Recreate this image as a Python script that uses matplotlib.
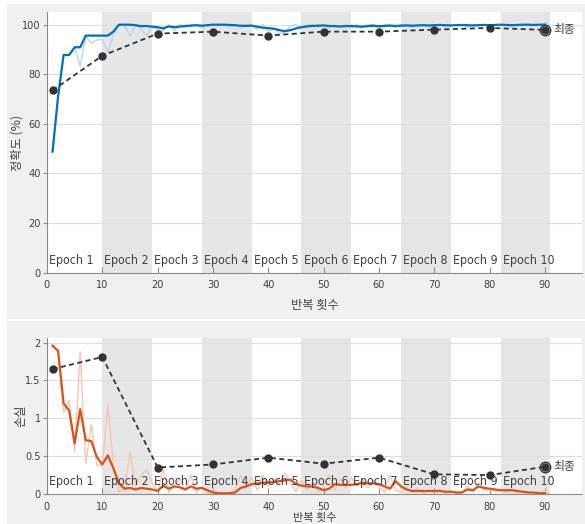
import numpy as np
import matplotlib
matplotlib.use("Agg")
import matplotlib.pyplot as plt
from matplotlib.patches import Rectangle
from matplotlib import font_manager as fm

# pick a condensed latin face if available
def pick_font():
    for fam, st in [('Liberation Sans Narrow', 'normal'), ('DejaVu Sans', 'condensed'),
                    ('Roboto Condensed', 'normal'), ('Open Sans', 'condensed')]:
        try:
            p = fm.findfont(fm.FontProperties(family=fam, stretch=st), fallback_to_default=False)
            name = p.lower()
            if 'narrow' in name or 'condensed' in name:
                return fam, st, name
        except Exception:
            pass
    return 'Liberation Sans', 'normal', ''

LATIN, STRETCH, FNAME = pick_font()
plt.rcParams['font.family'] = [LATIN, 'Noto Sans CJK KR']
plt.rcParams['font.stretch'] = STRETCH

# ---------------- data ----------------
acc_smooth = [48.8, 71.0, 87.8, 87.8, 90.9, 90.9, 95.6, 95.6, 95.6, 95.6,
              95.6, 97.2, 100, 100, 100, 99.8, 99.4, 99.5, 99.2, 99.0,
              98.5, 99.3, 99.0, 99.2, 99.5, 99.6, 99.8, 99.6, 99.8, 100,
              100, 100, 99.9, 99.8, 99.6, 99.5, 99.6, 99.2, 98.8, 98.6,
              98.4, 97.8, 97.4, 97.8, 98.5, 99.0, 99.3, 99.5, 99.6, 99.7,
              99.5, 99.4, 99.3, 99.4, 99.5, 99.3, 99.2, 99.4, 99.6, 99.4,
              99.5, 99.6, 99.5, 99.6, 99.7, 99.6, 99.7, 99.8, 99.7, 99.8,
              99.9, 99.8, 99.7, 99.8, 99.9, 99.8, 99.7, 99.8, 99.9, 99.8,
              99.9, 100, 99.9, 99.8, 99.9, 100, 100, 99.9, 100, 100]
acc_raw = [48.8, 71.0, 87.8, 87.5, 90.9, 83.2, 95.6, 92.5, 93.8, 94.0,
           88.7, 96.0, 100, 100, 95.4, 100, 98.0, 95.6, 99.2, 98.0,
           97.5, 100, 97.5, 100, 99.0, 100, 100, 98.5, 100, 100,
           100, 100, 98.8, 100, 98.5, 100, 100, 98.0, 100, 97.5,
           98.5, 96.5, 97.0, 99.5, 100, 98.5, 100, 100, 99.0, 100,
           98.5, 100, 99.0, 100, 98.8, 100, 99.0, 100, 100, 98.5,
           100, 100, 98.8, 100, 100, 99.0, 100, 100, 99.0, 100,
           100, 99.2, 100, 100, 100, 99.0, 100, 100, 100, 99.2,
           100, 100, 100, 99.3, 100, 100, 100, 100, 100, 100]
loss_smooth = [1.96, 1.89, 1.20, 1.10, 0.67, 1.12, 0.71, 0.70, 0.49, 0.39,
               0.51, 0.34, 0.14, 0.07, 0.08, 0.06, 0.08, 0.07, 0.06, 0.04,
               0.11, 0.07, 0.10, 0.09, 0.06, 0.10, 0.07, 0.08, 0.05, 0.02,
               0.01, 0.01, 0.01, 0.02, 0.08, 0.10, 0.13, 0.14, 0.15, 0.15,
               0.16, 0.17, 0.18, 0.19, 0.13, 0.11, 0.10, 0.10, 0.08, 0.05,
               0.07, 0.13, 0.12, 0.12, 0.12, 0.13, 0.15, 0.14, 0.14, 0.13,
               0.10, 0.07, 0.17, 0.10, 0.06, 0.04, 0.04, 0.04, 0.04, 0.04,
               0.04, 0.03, 0.03, 0.02, 0.02, 0.06, 0.05, 0.10, 0.08, 0.07,
               0.06, 0.05, 0.05, 0.05, 0.04, 0.03, 0.02, 0.02, 0.01, 0.01]
loss_raw = [1.96, 1.89, 1.08, 1.24, 0.56, 1.88, 0.40, 0.92, 0.38, 0.39,
            1.18, 0.38, 0.03, 0.05, 0.55, 0.10, 0.25, 0.32, 0.15, 0.03,
            0.33, 0.02, 0.12, 0.20, 0.05, 0.25, 0.02, 0.10, 0.00, 0.05,
            0.01, 0.00, 0.02, 0.05, 0.25, 0.10, 0.22, 0.05, 0.25, 0.10,
            0.20, 0.12, 0.28, 0.15, 0.03, 0.18, 0.05, 0.15, 0.02, 0.10,
            0.25, 0.05, 0.20, 0.08, 0.22, 0.10, 0.20, 0.08, 0.18, 0.10,
            0.02, 0.25, 0.05, 0.02, 0.10, 0.02, 0.08, 0.00, 0.05, 0.02,
            0.06, 0.01, 0.04, 0.00, 0.02, 0.10, 0.03, 0.15, 0.05, 0.06,
            0.03, 0.05, 0.02, 0.06, 0.01, 0.03, 0.00, 0.02, 0.01, 0.01]
val_iter = [1, 10, 20, 30, 40, 50, 60, 70, 80, 90]
val_acc = [73.5, 87.5, 96.4, 97.2, 95.6, 97.2, 97.2, 98.0, 98.7, 97.9]
val_loss = [1.65, 1.81, 0.35, 0.39, 0.48, 0.40, 0.48, 0.26, 0.25, 0.36]
epoch_starts = [0, 10, 19, 28, 37, 46, 55, 64, 73, 82]
epoch_end = 91
epoch_labels = ['Epoch %d' % (i + 1) for i in range(10)]
acc_ticks = [0, 20, 40, 60, 80, 100]
loss_ticks = [0, 0.5, 1, 1.5, 2]
loss_ticklabels = ['0', '0.5', '1', '1.5', '2']
iter_ticks = [0, 10, 20, 30, 40, 50, 60, 70, 80, 90]
final_label = '최종'
xlabel = '반복 횟수'
acc_ylabel = '정확도 (%)'
loss_ylabel = '손실'

iters = np.arange(1, len(acc_smooth) + 1)

# font sizes chosen so text widths match the reference
if 'narrow' in FNAME:
    EPOCH_FS, TICK_FS = 10.2, 8.6
elif FNAME:
    EPOCH_FS, TICK_FS = 8.9, 7.8
else:
    EPOCH_FS, TICK_FS = 8.6, 7.2

# ---------------- figure ----------------
W, H = 585, 524
fig = plt.figure(figsize=(W / 100, H / 100), dpi=100)
fig.patch.set_facecolor('white')
panel = '#f0f0f0'
fig.patches.append(Rectangle((7 / W, 1 - 319 / H), (W - 7) / W, 315 / H,
                             transform=fig.transFigure, facecolor=panel,
                             edgecolor='none', zorder=-10))
fig.patches.append(Rectangle((7 / W, 0), (W - 7) / W, (H - 321) / H,
                             transform=fig.transFigure, facecolor=panel,
                             edgecolor='none', zorder=-10))

ax1 = fig.add_axes([47 / W, 1 - 272.7 / H, 535 / W, 260.4 / H])
ax2 = fig.add_axes([47 / W, 1 - 494 / H, 535 / W, 155.7 / H])

spine_c = '#8c8c8c'
tick_c = '#404040'
band_c = '#e6e6e6'
grid_c = '#dedede'
val_c = '#333333'


def style(ax, ylim, yticks, yticklabels=None):
    ax.set_xlim(0, 96.7)
    ax.set_ylim(*ylim)
    ax.set_facecolor('white')
    for s in ['top', 'right']:
        ax.spines[s].set_visible(False)
    for s in ['left', 'bottom']:
        ax.spines[s].set_color(spine_c)
        ax.spines[s].set_linewidth(0.8)
    ax.set_xticks(iter_ticks)
    ax.set_yticks(yticks)
    if yticklabels is not None:
        ax.set_yticklabels(yticklabels)
    ax.tick_params(axis='x', direction='in', length=4, width=0.8, color=spine_c,
                   labelcolor=tick_c, labelsize=TICK_FS, pad=5.5)
    ax.tick_params(axis='y', direction='out', length=3, width=0.8, color=spine_c,
                   labelcolor=tick_c, labelsize=TICK_FS, pad=1.5)
    ax.set_axisbelow(True)
    ax.grid(axis='y', color=grid_c, linewidth=0.8, zorder=0.5)
    for k, st in enumerate(epoch_starts):
        en = epoch_starts[k + 1] if k + 1 < len(epoch_starts) else epoch_end
        if k % 2 == 1:
            ax.axvspan(st, en, color=band_c, zorder=0.2, lw=0)
        ax.annotate(epoch_labels[k], xy=(st, 0), xycoords=('data', 'axes fraction'),
                    xytext=(1.5, 6.3), textcoords='offset points',
                    ha='left', va='baseline', fontsize=EPOCH_FS, color='#404040',
                    zorder=5)


style(ax1, (0, 105), acc_ticks)
style(ax2, (0, 2.057), loss_ticks, loss_ticklabels)

# accuracy
ax1.plot(iters, acc_raw, color='#b8d5ec', lw=1.0, zorder=2)
ax1.plot(iters, acc_smooth, color='#0072bd', lw=1.6, zorder=3)
ax1.plot(iters[-1:], acc_raw[-1:], 'o', color='#b8d5ec', ms=4, zorder=2.5)
ax1.plot(val_iter, val_acc, color=val_c, lw=1.3, ls=(0, (2.8, 1.9)),
         marker='o', ms=5, zorder=4)
ax1.plot(val_iter[-1:], val_acc[-1:], 'o', ms=7.5, mfc='none', mec=val_c,
         mew=1.0, zorder=4)
ax1.annotate(final_label, xy=(val_iter[-1], val_acc[-1]), xytext=(6, 0),
             textcoords='offset points', ha='left', va='center',
             fontsize=8.5, color='#404040', family=['Noto Sans CJK KR'])

# loss
ax2.plot(iters, loss_raw, color='#f5c6b2', lw=1.0, zorder=2)
ax2.plot(iters, loss_smooth, color='#d95319', lw=1.6, zorder=3)
ax2.plot(iters[-1:], loss_raw[-1:], 'o', color='#f5c6b2', ms=4, zorder=2.5)
ax2.plot(val_iter, val_loss, color=val_c, lw=1.3, ls=(0, (2.8, 1.9)),
         marker='o', ms=5, zorder=4)
ax2.plot(val_iter[-1:], val_loss[-1:], 'o', ms=7.5, mfc='none', mec=val_c,
         mew=1.0, zorder=4)
ax2.annotate(final_label, xy=(val_iter[-1], val_loss[-1]), xytext=(6, 0),
             textcoords='offset points', ha='left', va='center',
             fontsize=8.5, color='#404040', family=['Noto Sans CJK KR'])

# labels
lab_kw = dict(fontsize=8.8, color='#404040', family=['Noto Sans CJK KR'])
ax1.set_xlabel(xlabel, va='center', **lab_kw)
ax1.xaxis.set_label_coords(0.5, -(305 - 272.7) / 260.4)
ax1.set_ylabel(acc_ylabel, va='center', **lab_kw)
ax1.yaxis.set_label_coords(-(47 - 17) / 535, 0.5)
ax2.set_xlabel(xlabel, va='center', fontsize=8, color='#404040',
               family=['Noto Sans CJK KR'])
ax2.xaxis.set_label_coords(0.5, -(518 - 494) / 155.7)
ax2.set_ylabel(loss_ylabel, va='center', **lab_kw)
ax2.yaxis.set_label_coords(-(47 - 21) / 535, 0.5)

fig.savefig('out.png', dpi=100)
